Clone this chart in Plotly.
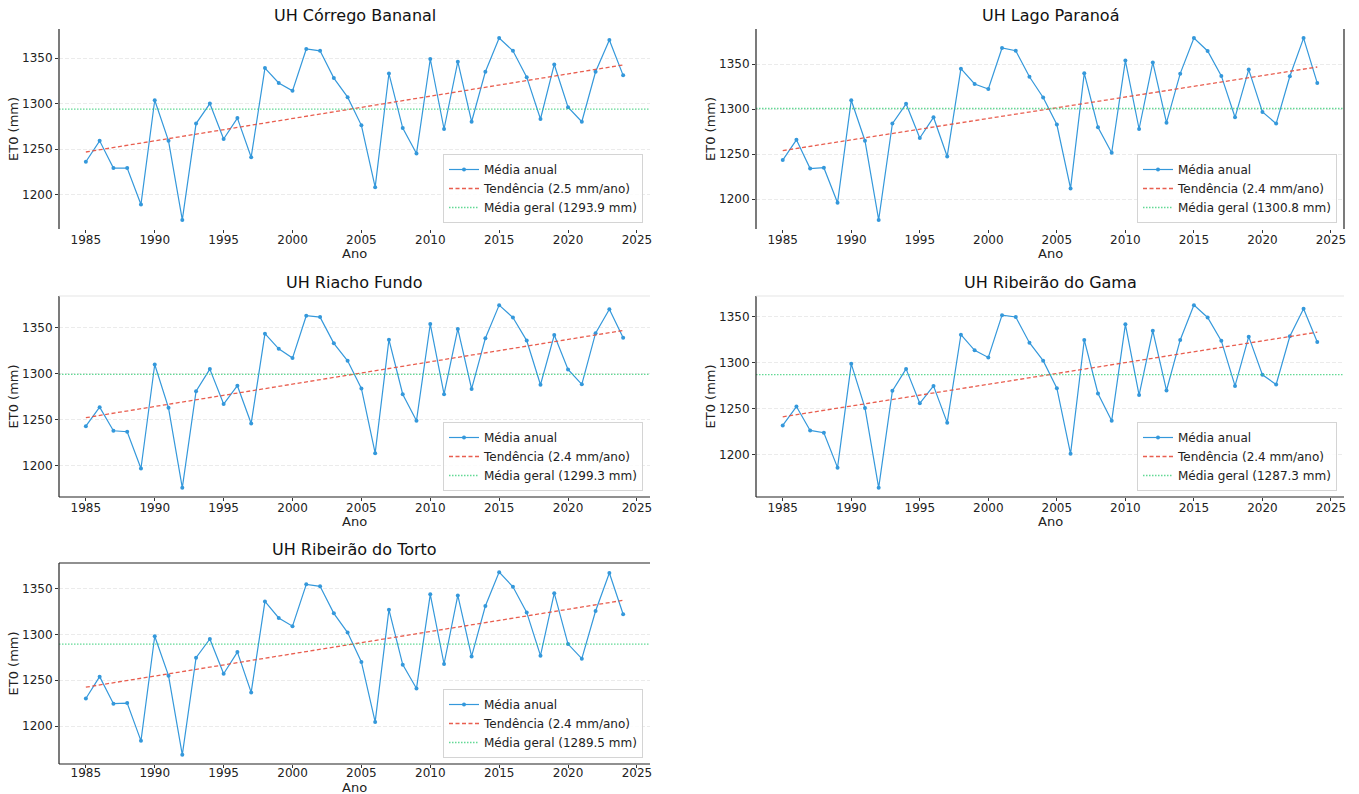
import numpy as np
import plotly.graph_objects as go

years = list(range(1985, 2025))

et0_corrego_bananal = [1236, 1259, 1229, 1229, 1189, 1303.6, 1259, 1172, 1278, 1300,
                       1261, 1284, 1241, 1339, 1322.6, 1314, 1360, 1358, 1328, 1307,
                       1276, 1208, 1333, 1273, 1245, 1349, 1272, 1346, 1280, 1335,
                       1372, 1358, 1329, 1283, 1343, 1296, 1280, 1335, 1370, 1331]
et0_lago_paranoa = [1243.5, 1266, 1234, 1235, 1196, 1310, 1265, 1177, 1284, 1306,
                    1268, 1291, 1247.5, 1345, 1328, 1322.5, 1368, 1365, 1336, 1313,
                    1283, 1212, 1340, 1280, 1251.6, 1354, 1278, 1352, 1285, 1339.5,
                    1379, 1364.7, 1337, 1291, 1344, 1297, 1284, 1336.6, 1379, 1329]
et0_riacho_fundo = [1243, 1263.7, 1238, 1237, 1197, 1310, 1263, 1176, 1281, 1305,
                    1267, 1287, 1246, 1343.5, 1327, 1317, 1363, 1361.5, 1333, 1314,
                    1284, 1213.7, 1337, 1277.7, 1249, 1354, 1277.7, 1348.6, 1283.5, 1338.5,
                    1374.5, 1361, 1336, 1288, 1342, 1304.7, 1288.5, 1344, 1370, 1339]
et0_ribeirao_gama = [1232, 1252.5, 1226.5, 1224, 1186, 1299, 1251, 1164, 1269.6, 1293.5,
                     1256, 1275, 1235, 1330.7, 1313.7, 1306, 1352, 1350, 1322, 1302.5,
                     1272.5, 1201, 1325, 1266.8, 1237, 1342, 1265, 1335, 1270, 1325,
                     1362.9, 1349.5, 1324, 1275, 1328.6, 1287, 1276.5, 1329, 1359, 1322.8]
et0_ribeirao_torto = [1230, 1253.9, 1224.4, 1225, 1183.8, 1298, 1255, 1168.5, 1274.6, 1295,
                      1257, 1280.7, 1236.7, 1336, 1318, 1309, 1354.7, 1352.5, 1323, 1302,
                      1270, 1204.5, 1327, 1267, 1241, 1343.8, 1267.7, 1342.5, 1276, 1331,
                      1368, 1352, 1324, 1276.8, 1345, 1289.5, 1273.5, 1325.5, 1367, 1322]

titles = ["UH Córrego Bananal", "UH Lago Paranoá", "UH Riacho Fundo",
          "UH Ribeirão do Gama", "UH Ribeirão do Torto"]
series = [et0_corrego_bananal, et0_lago_paranoa, et0_riacho_fundo,
          et0_ribeirao_gama, et0_ribeirao_torto]
mean_values = [1293.9, 1300.8, 1299.3, 1287.3, 1289.5]
trend_slopes = [2.5, 2.4, 2.4, 2.4, 2.4]
x_tick_values = [1985, 1990, 1995, 2000, 2005, 2010, 2015, 2020, 2025]
y_tick_values = [1200, 1250, 1300, 1350]

W, H = 1359, 794
col_px = [(59, 650), (756, 1344)]
row_px = [(29, 229), (296, 497), (563, 764)]

# spines per panel: (side, color)
spines = [
    [("left", "#222")],
    [("left", "#222"), ("right", "#222")],
    [("left", "#222"), ("bottom", "#222"), ("top", "#e6e6e6")],
    [("left", "#222"), ("bottom", "#222"), ("top", "#e6e6e6")],
    [("left", "#222"), ("bottom", "#222"), ("top", "#222")],
]

FONT = "DejaVu Sans"
BLUE = "#3498db"
RED = "rgba(231,76,60,0.9)"
GREEN = "rgba(46,204,113,0.75)"

fig = go.Figure()
layout = {}
annotations = []
shapes = []

for i, (vals, title) in enumerate(zip(series, titles)):
    r, c = divmod(i, 2)
    l, rr = col_px[c]
    t, b = row_px[r]
    xd = [l / W, rr / W]
    yd = [1 - b / H, 1 - t / H]
    sfx = "" if i == 0 else str(i + 1)
    xa, ya = "x" + sfx, "y" + sfx
    lg = "legend" + sfx
    last_row = (r == 2)

    fig.add_trace(go.Scatter(
        x=years, y=vals, mode="lines+markers", name="Média anual",
        line=dict(color=BLUE, width=1.2), marker=dict(size=4, color=BLUE),
        xaxis=xa, yaxis=ya, legend=lg))

    coef = np.polyfit(years, vals, 1)
    trend = np.polyval(coef, years)
    fig.add_trace(go.Scatter(
        x=years, y=trend, mode="lines",
        name=f"Tendência ({trend_slopes[i]:.1f} mm/ano)",
        line=dict(color=RED, width=1.3, dash="4px,2.5px"),
        xaxis=xa, yaxis=ya, legend=lg))

    shapes.append(dict(
        type="line", xref=f"{xa} domain", yref=ya, x0=0, x1=1,
        y0=mean_values[i], y1=mean_values[i],
        line=dict(color=GREEN, width=1.3, dash="1.5px,1.5px"),
        showlegend=True, name=f"Média geral ({mean_values[i]:.1f} mm)",
        legend=lg, layer="above"))

    lo, hi = min(vals), max(vals)
    pad = 0.05 * (hi - lo)
    xlo, xhi = years[0], years[-1]
    xpad = 0.05 * (xhi - xlo)

    layout["xaxis" + sfx] = dict(
        domain=xd, anchor=ya, range=[xlo - xpad, xhi + xpad],
        tickmode="array", tickvals=x_tick_values, automargin=False,
        ticks="outside", ticklen=3, tickcolor="#333",
        ticklabelstandoff=(-5 if last_row else -3),
        showgrid=False, zeroline=False, showline=False,
        tickfont=dict(family=FONT, size=12, color="#222"))
    layout["yaxis" + sfx] = dict(
        domain=yd, anchor=xa, range=[lo - pad, hi + pad],
        tickmode="array", tickvals=y_tick_values, automargin=False,
        ticks="outside", ticklen=3, tickcolor="#333",
        showgrid=True, gridcolor="#ebebeb", gridwidth=1, griddash="4px,2px",
        zeroline=False, showline=False,
        tickfont=dict(family=FONT, size=12, color="#222"))

    layout[lg] = dict(
        x=(rr - 7) / W, y=1 - (b - 6) / H, xanchor="right", yanchor="bottom",
        xref="paper", yref="paper",
        bgcolor="rgba(255,255,255,0.85)", bordercolor="#d4d4d4", borderwidth=1,
        font=dict(family=FONT, size=12, color="#222"), tracegroupgap=0,
        itemwidth=30)

    annotations.append(dict(
        text=title, x=(xd[0] + xd[1]) / 2, y=yd[1], xref="paper", yref="paper",
        xanchor="center", yanchor="bottom", yshift=2, showarrow=False,
        font=dict(family=FONT, size=16, color="#111")))
    annotations.append(dict(
        text="Ano", x=(xd[0] + xd[1]) / 2, y=yd[0], xref="paper", yref="paper",
        xanchor="center", yanchor="top", yshift=(-14 if last_row else -15),
        showarrow=False, font=dict(family=FONT, size=13, color="#222")))
    annotations.append(dict(
        text="ET0 (mm)", x=xd[0], y=(yd[0] + yd[1]) / 2, xref="paper", yref="paper",
        xanchor="center", yanchor="middle", xshift=-46, textangle=-90,
        showarrow=False, font=dict(family=FONT, size=13, color="#222")))

    for side, col in spines[i]:
        if side == "left":
            s = dict(x0=0, x1=0, y0=0, y1=1)
        elif side == "right":
            s = dict(x0=1, x1=1, y0=0, y1=1)
        elif side == "bottom":
            s = dict(x0=0, x1=1, y0=0, y1=0)
        else:
            s = dict(x0=0, x1=1, y0=1, y1=1)
        s.update(type="line", xref=f"{xa} domain", yref=f"{ya} domain",
                 line=dict(color=col, width=1.2), layer="above")
        shapes.append(s)

fig.update_layout(
    width=W, height=H, margin=dict(l=0, r=0, t=0, b=0, autoexpand=False),
    paper_bgcolor="white", plot_bgcolor="white",
    annotations=annotations, shapes=shapes, **layout)

fig.write_html(
    "out.html",
    config={"displayModeBar": False},
    post_script="document.body.style.margin='0';document.body.style.overflow='hidden';")
